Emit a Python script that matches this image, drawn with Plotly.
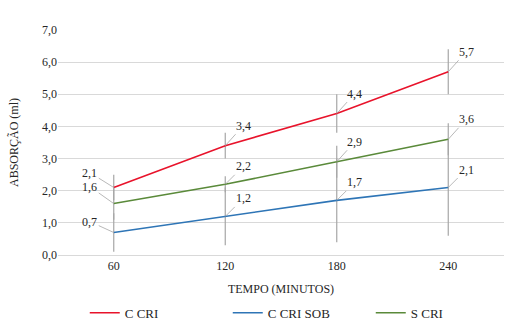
import plotly.graph_objects as go

categories = ["60", "120", "180", "240"]
c_cri = [2.1, 3.4, 4.4, 5.7]
c_cri_err = [0.4, 0.4, 0.6, 0.7]
c_cri_sob = [0.7, 1.2, 1.7, 2.1]
c_cri_sob_err = [0.6, 0.9, 1.3, 1.5]
s_cri = [1.6, 2.2, 2.9, 3.6]
s_cri_err = [0.5, 0.25, 0.5, 0.5]

series = [
    ("C CRI", c_cri, c_cri_err, "#E8132B", [(-24, -15), (18, -20), (18, -20), (18, -20)]),
    ("C CRI SOB", c_cri_sob, c_cri_sob_err, "#2E75B6", [(-24, -11), (18, -18), (18, -18), (18, -18)]),
    ("S CRI", s_cri, s_cri_err, "#5A8A3A", [(-24, -17), (18, -18), (18, -20), (18, -20)]),
]

FONT = "Liberation Serif"
fig = go.Figure()
annotations = []
for name, vals, errs, color, offs in series:
    fig.add_trace(go.Scatter(
        x=categories, y=vals, name=name, mode="lines",
        line=dict(color=color, width=1.6),
        error_y=dict(type="data", array=errs, visible=True,
                     color="#A6A6A6", thickness=1.2, width=0),
    ))
    for i, (v, (ax, ay)) in enumerate(zip(vals, offs)):
        annotations.append(dict(
            x=i, y=v, xref="x", yref="y",
            text=f"{v:.1f}".replace(".", ","),
            showarrow=True, arrowhead=0, arrowwidth=0.8, arrowcolor="#A6A6A6",
            ax=ax, ay=ay, standoff=0,
            font=dict(family=FONT, size=12, color="#262626"),
        ))

fig.update_layout(
    width=513, height=330,
    margin=dict(l=58, r=9, t=30, b=75, autoexpand=False),
    paper_bgcolor="white", plot_bgcolor="white",
    separators=",.",
    font=dict(family=FONT, size=12, color="#262626"),
    showlegend=True,
    legend=dict(orientation="h", x=0.06, xanchor="left", y=-0.19, yanchor="top",
                font=dict(family=FONT, size=13, color="#262626"),
                itemwidth=30, entrywidth=98, entrywidthmode="pixels"),
    annotations=annotations,
    xaxis=dict(
        type="category", range=[-0.5, 3.5],
        showgrid=False, showline=True, linecolor="#D9D9D9", linewidth=1,
        ticks="", tickfont=dict(family=FONT, size=12, color="#262626"),
        title=dict(text="TEMPO (MINUTOS)", font=dict(family=FONT, size=12, color="#262626"), standoff=12),
    ),
    yaxis=dict(
        range=[0, 7], dtick=1, tickformat=".1f",
        showgrid=True, gridcolor="#D9D9D9", gridwidth=1,
        zeroline=False, showline=False, ticks="",
        tickfont=dict(family=FONT, size=12, color="#262626"),
        title=dict(text="ABSORÇÃO (ml)", font=dict(family=FONT, size=12, color="#262626"), standoff=20),
    ),
)

fig.write_html("out.html")
